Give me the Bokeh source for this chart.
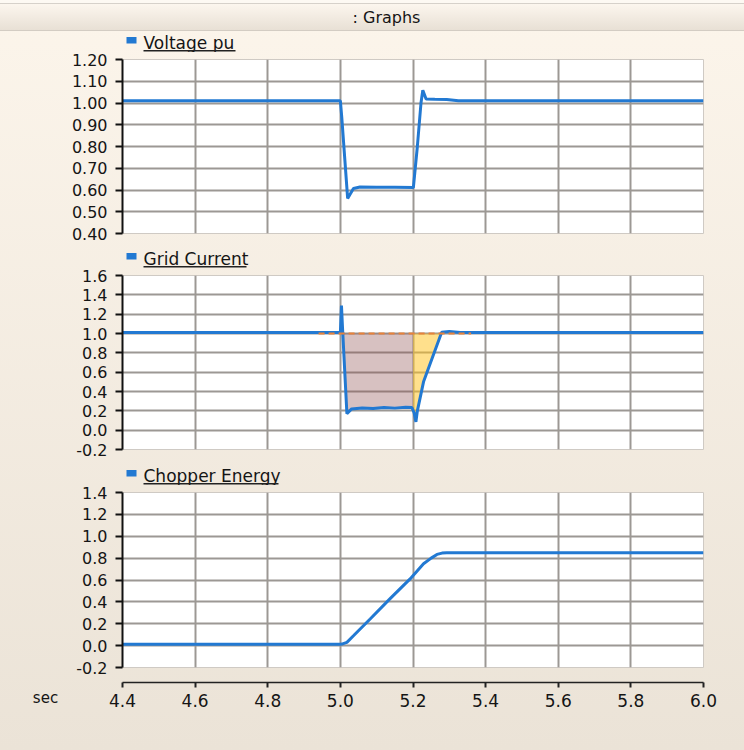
import numpy as np
from bokeh.plotting import figure
from bokeh.layouts import column, row
from bokeh.models import (Range1d, FixedTicker, PrintfTickFormatter,
                          ColumnDataSource)
from bokeh.core.properties import value
from bokeh.embed import file_html
from bokeh.resources import INLINE

# ---------------- data ----------------
x_ticks = [4.4, 4.6, 4.8, 5.0, 5.2, 5.4, 5.6, 5.8, 6.0]
v_ticks = [0.4, 0.5, 0.6, 0.7, 0.8, 0.9, 1.0, 1.1, 1.2]
i_ticks = [-0.2, 0.0, 0.2, 0.4, 0.6, 0.8, 1.0, 1.2, 1.4, 1.6]
e_ticks = [-0.2, 0.0, 0.2, 0.4, 0.6, 0.8, 1.0, 1.2, 1.4]

t_volt = [4.4, 5.0, 5.004, 5.020, 5.036, 5.054, 5.10, 5.15, 5.201, 5.212,
          5.222, 5.227, 5.236, 5.26, 5.293, 5.325, 6.0]
volt = [1.01, 1.01, 0.93, 0.561, 0.607, 0.614, 0.613, 0.613, 0.611, 0.80,
        1.00, 1.059, 1.018, 1.017, 1.016, 1.01, 1.01]

t_curr = [4.4, 5.0, 5.003, 5.006, 5.018, 5.031, 5.06, 5.09, 5.12, 5.15,
          5.18, 5.197, 5.203, 5.208, 5.212, 5.229, 5.279, 5.30, 5.33, 6.0]
curr = [1.01, 1.01, 1.29, 1.05, 0.17, 0.22, 0.23, 0.225, 0.235, 0.228,
        0.236, 0.234, 0.18, 0.086, 0.20, 0.50, 1.014, 1.02, 1.01, 1.01]

t_energy = [4.4, 5.0, 5.004, 5.018, 5.036, 5.082, 5.137, 5.192, 5.229,
            5.25, 5.266, 5.28, 5.293, 6.0]
energy = [0.012, 0.012, 0.014, 0.03, 0.09, 0.244, 0.43, 0.61, 0.749,
          0.80, 0.834, 0.846, 0.85, 0.85]

ref_level = 1.0
ref_line_t = [4.94, 5.36]
loss_window = [5.006, 5.2]
recovery_window = [5.2, 5.279]

labels = ["Voltage pu", "Grid Current", "Chopper Energy"]

# ---------------- styling ----------------
FONT = "DejaVu Sans"
LINE = "#2279d2"
GRID = "#9c9894"
TXT = "#151515"
W = 744
LEFT = 122
FW = 581
RIGHT = W - LEFT - FW

xr = Range1d(4.4, 6.0)


def fill_source(window):
    xs = [window[0]] + [t for t in t_curr if window[0] < t < window[1]] + [window[1]]
    ys = np.minimum(np.interp(xs, t_curr, curr), ref_level)
    return ColumnDataSource(dict(x=xs, y1=ys, y2=[ref_level] * len(xs)))


def blank(width, height, **kw):
    f = figure(width=width, height=height, x_range=Range1d(0, width),
               y_range=Range1d(0, height), output_backend="svg",
               toolbar_location=None, x_axis_type=None, y_axis_type=None,
               min_border=0, frame_align=False, **kw)
    f.grid.visible = False
    f.background_fill_alpha = 0
    f.border_fill_alpha = 0
    f.outline_line_color = None
    return f


def legend_strip(label, ul_w):
    s = blank(W, 21)
    s.quad(left=[126], right=[136], bottom=[9], top=[15.5], fill_color=LINE,
           line_color=None)
    s.text(x=[143], y=[10], text=[label], text_font=value(FONT),
           text_font_size="17px", text_color=TXT, text_baseline="middle")
    s.quad(left=[143], right=[143 + ul_w], bottom=[1.0], top=[2.5],
           fill_color="#222222", line_color=None)
    return s


def panel(yr, ticks, fmt, fh, bottom):
    p = figure(frame_width=FW, frame_height=fh, x_range=xr,
               y_range=Range1d(*yr), output_backend="svg",
               toolbar_location=None, min_border_left=LEFT,
               min_border_right=RIGHT, min_border_top=7,
               min_border_bottom=bottom)
    p.border_fill_alpha = 0
    p.background_fill_color = "white"
    p.outline_line_color = "#cfcac4"
    p.outline_line_width = 1
    p.xaxis.visible = False
    p.xaxis.ticker = FixedTicker(ticks=x_ticks)
    p.yaxis.ticker = FixedTicker(ticks=ticks)
    p.yaxis.formatter = PrintfTickFormatter(format=fmt)
    p.yaxis.minor_tick_line_color = None
    p.yaxis.major_tick_out = 7
    p.yaxis.major_tick_in = 0
    p.yaxis.major_tick_line_width = 2
    p.yaxis.major_tick_line_color = "#111111"
    p.yaxis.axis_line_width = 2
    p.yaxis.axis_line_color = "#111111"
    p.yaxis.major_label_standoff = 8
    p.yaxis.major_label_text_font = FONT
    p.yaxis.major_label_text_font_size = "16px"
    p.yaxis.major_label_text_color = TXT
    p.grid.grid_line_color = GRID
    p.grid.grid_line_width = 2
    return p


# header bar
hdr = blank(W, 31, styles={
    "background": ("linear-gradient(#fdf9f3 0px, #fdf9f3 3px, #d6d1ca 3px, "
                   "#d6d1ca 4px, #fcf6ee 4px, #e8e0d5 30px, #d3ccc3 30px)")})
hdr.text(x=[386], y=[14], text=[": Graphs"], text_font=value(FONT),
         text_font_size="16px", text_color=TXT, text_align="center",
         text_baseline="middle")

l1 = legend_strip(labels[0], 92)
p1 = panel((0.4, 1.2), v_ticks, "%.2f", 174, 14)
p1.line(t_volt, volt, line_color=LINE, line_width=3)

l2 = legend_strip(labels[1], 103)
p2 = panel((-0.2, 1.6), i_ticks, "%.1f", 174, 15)
p2.varea(x="x", y1="y1", y2="y2", source=fill_source(loss_window),
         fill_color="#8c4c4c", fill_alpha=0.35)
p2.varea(x="x", y1="y1", y2="y2", source=fill_source(recovery_window),
         fill_color="#ffc21a", fill_alpha=0.5)
p2.line(t_curr, curr, line_color=LINE, line_width=3)
p2.line(ref_line_t, [ref_level, ref_level], line_color="#e8823a",
        line_width=2, line_dash="6 4")

l3 = legend_strip(labels[2], 135)
p3 = panel((-0.2, 1.4), e_ticks, "%.1f", 175, 13)
p3.line(t_energy, energy, line_color=LINE, line_width=3)

# separate time axis, with the "sec" caption to its left
SEC_W = 102
pax = figure(frame_width=FW, frame_height=2, x_range=xr,
             y_range=(0, 1), output_backend="svg", toolbar_location=None,
             y_axis_type=None, min_border_left=LEFT - SEC_W,
             min_border_right=RIGHT, min_border_top=0, min_border_bottom=68)
pax.grid.visible = False
pax.outline_line_color = None
pax.background_fill_alpha = 0
pax.border_fill_alpha = 0
pax.xaxis.ticker = FixedTicker(ticks=x_ticks)
pax.xaxis.formatter = PrintfTickFormatter(format="%.1f")
pax.xaxis.minor_tick_line_color = None
pax.xaxis.major_tick_out = 5
pax.xaxis.major_tick_in = 0
pax.xaxis.major_tick_line_width = 2
pax.xaxis.major_tick_line_color = "#222222"
pax.xaxis.axis_line_width = 1.5
pax.xaxis.axis_line_color = "#222222"
pax.xaxis.major_label_standoff = 6
pax.xaxis.major_label_text_font = FONT
pax.xaxis.major_label_text_font_size = "17px"
pax.xaxis.major_label_text_color = TXT

sec = blank(SEC_W, 70)
sec.text(x=[45], y=[53], text=["sec"], text_font=value(FONT),
         text_font_size="15px", text_color=TXT, text_align="center",
         text_baseline="middle")

layout = column(hdr, l1, p1, l2, p2, l3, p3, row(sec, pax, spacing=0),
                spacing=0,
                styles={"background": "linear-gradient(#fcf5eb, #ebe3d7)"})

open("out.html", "w").write(file_html(layout, INLINE))
